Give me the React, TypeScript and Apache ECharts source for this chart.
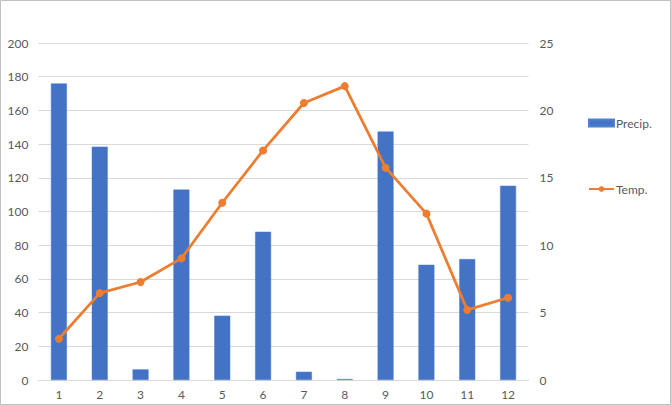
import React, { useEffect, useRef } from "react";
import * as echarts from "echarts";

const months = ["1", "2", "3", "4", "5", "6", "7", "8", "9", "10", "11", "12"];
const precip = [176, 138.5, 6.3, 113, 38.2, 88, 4.9, 0.6, 147.5, 68.4, 71.8, 115.3];
const temp = [3.06, 6.45, 7.27, 9.02, 13.15, 17.03, 20.55, 21.8, 15.75, 12.34, 5.2, 6.1];

const textColor = "#595959";
const font = "Lato, 'Liberation Sans', sans-serif";

export default function App() {
  const ref = useRef<HTMLDivElement>(null);
  useEffect(() => {
    document.body.style.margin = "0";
    const chart = echarts.init(ref.current!, undefined, { renderer: "svg" });
    chart.setOption({
      animation: false,
      backgroundColor: "#ffffff",
      textStyle: { fontFamily: font, color: textColor },
      graphic: [
        {
          type: "rect",
          shape: { x: 0.5, y: 0.5, width: 670, height: 404 },
          style: { fill: "none", stroke: "#BFBFBF", lineWidth: 1 },
          silent: true,
        },
      ],
      grid: { left: 38.5, right: 142.5, top: 43, bottom: 25 },
      legend: {
        orient: "vertical",
        left: 588,
        top: 117,
        padding: 0,
        itemGap: 54,
        itemWidth: 25,
        itemHeight: 7,
        textStyle: { fontFamily: font, color: textColor, fontSize: 12, padding: [0, 0, 0, -3] },
        data: [
          { name: "Precip.", icon: "rect" },
          { name: "Temp." },
        ],
      },
      xAxis: {
        type: "category",
        data: months,
        axisLine: { lineStyle: { color: "#D9D9D9", width: 1 } },
        axisTick: { show: false },
        axisLabel: { color: textColor, fontSize: 12, fontFamily: font, margin: 8 },
      },
      yAxis: [
        {
          type: "value",
          min: 0,
          max: 200,
          interval: 20,
          axisLine: { show: false },
          axisTick: { show: false },
          axisLabel: { color: textColor, fontSize: 12, fontFamily: font, margin: 10 },
          splitLine: { lineStyle: { color: "#D9D9D9", width: 1 } },
        },
        {
          type: "value",
          min: 0,
          max: 25,
          interval: 5,
          axisLine: { show: false },
          axisTick: { show: false },
          axisLabel: { color: textColor, fontSize: 12, fontFamily: font, margin: 11 },
          splitLine: { show: false },
        },
      ],
      series: [
        {
          name: "Precip.",
          type: "bar",
          data: precip,
          barWidth: 16,
          itemStyle: { color: "#4472C4", borderColor: "#4F81D0", borderWidth: 0.5 },
        },
        {
          name: "Temp.",
          type: "line",
          yAxisIndex: 1,
          data: temp,
          symbol: "circle",
          symbolSize: 8,
          lineStyle: { color: "#ED7D31", width: 2.75 },
          itemStyle: { color: "#ED7D31" },
        },
      ],
    });
    return () => chart.dispose();
  }, []);
  return <div ref={ref} style={{ width: 671, height: 405 }} />;
}
